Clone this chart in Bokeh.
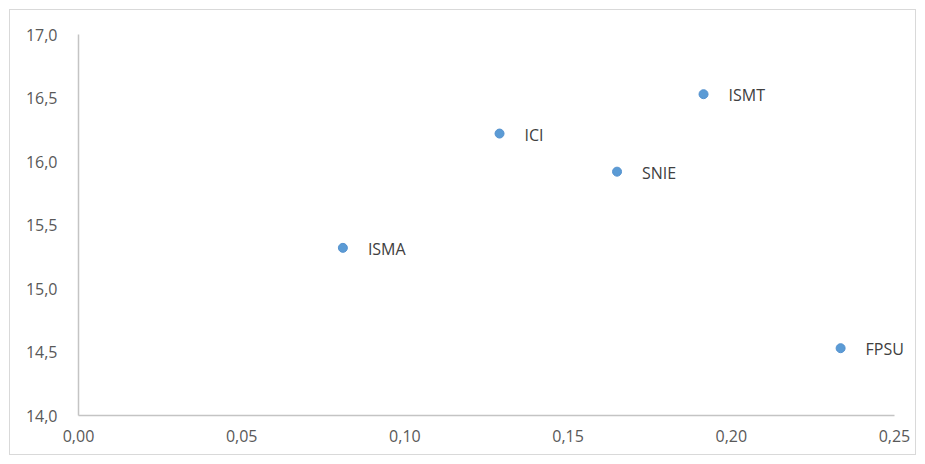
from bokeh.plotting import figure
from bokeh.models import ColumnDataSource, FixedTicker, Range1d, LabelSet
from bokeh.core.properties import value
from bokeh.embed import file_html
from bokeh.resources import INLINE

# Data
names = ["ISMA", "ICI", "SNIE", "ISMT", "FPSU"]
x_vals = [0.081, 0.129, 0.165, 0.1915, 0.2335]
y_vals = [15.32, 16.22, 15.92, 16.53, 14.53]

x_ticks = [0.0, 0.05, 0.10, 0.15, 0.20, 0.25]
x_tick_labels = ["0,00", "0,05", "0,10", "0,15", "0,20", "0,25"]
y_ticks = [14.0, 14.5, 15.0, 15.5, 16.0, 16.5, 17.0]
y_tick_labels = ["14,0", "14,5", "15,0", "15,5", "16,0", "16,5", "17,0"]

FONT = "Open Sans"

# frame spans 832 px, of which the axis (0 .. 0.25) uses 815 px
x_end = x_ticks[-1] * 832.0 / 815.0

p = figure(width=907, height=446, output_backend="svg", toolbar_location=None,
           x_range=Range1d(x_ticks[0], x_end), y_range=Range1d(y_ticks[0], y_ticks[-1]),
           min_border_left=68, min_border_right=6, min_border_top=24, min_border_bottom=41)
p.styles = {"border": "1px solid #d9d9d9", "box-sizing": "border-box",
            "margin-left": "9px", "margin-top": "9px"}
p.outline_line_color = None
p.xgrid.visible = False
p.ygrid.visible = False
p.background_fill_color = "white"
p.border_fill_color = "white"

for ax, ticks, labels in ((p.xaxis[0], x_ticks, x_tick_labels), (p.yaxis[0], y_ticks, y_tick_labels)):
    ax.ticker = FixedTicker(ticks=ticks)
    ax.major_label_overrides = {t: l for t, l in zip(ticks, labels)}
    ax.major_tick_line_color = None
    ax.minor_tick_line_color = None
    ax.axis_line_color = "#c4c4c4"
    ax.axis_line_width = 1.5
    ax.major_label_text_color = "#595959"
    ax.major_label_text_font = FONT
    ax.major_label_text_font_size = "16px"

p.xaxis[0].bounds = (x_ticks[0], x_ticks[-1])
p.yaxis[0].major_label_standoff = 15
p.xaxis[0].major_label_standoff = 8

src = ColumnDataSource(dict(x=x_vals, y=y_vals, name=names))
p.scatter("x", "y", source=src, size=9, fill_color="#5b9bd5", line_color="#5592cf", line_width=1)

labels = LabelSet(x="x", y="y", text="name", source=src, x_offset=25, y_offset=-1,
                  text_baseline="middle", text_align="left", text_color="#404040",
                  text_font=value(FONT), text_font_size="16px")
p.add_layout(labels)

open("out.html", "w").write(file_html(p, INLINE))
